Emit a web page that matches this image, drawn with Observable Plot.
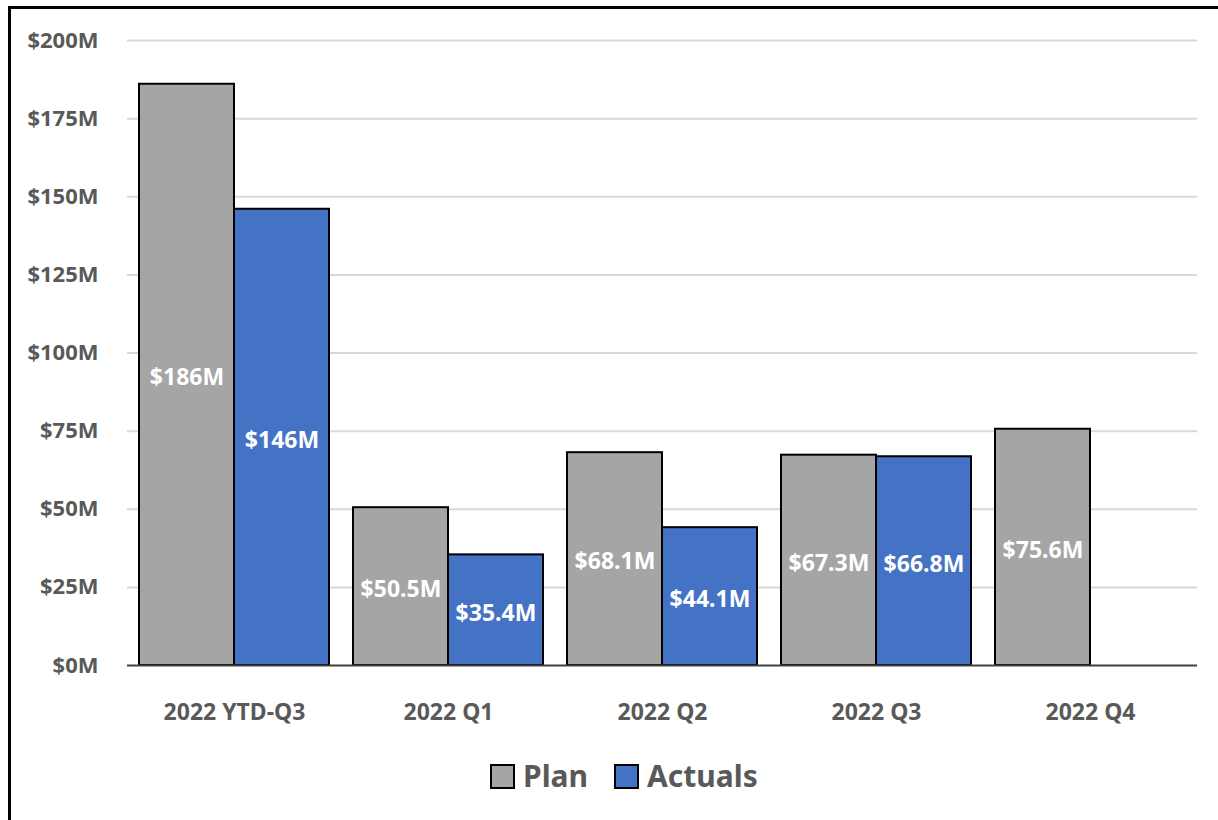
<!DOCTYPE html>
<html><head><meta charset="utf-8">
<script src="https://cdn.jsdelivr.net/npm/d3@7"></script>
<script src="https://cdn.jsdelivr.net/npm/@observablehq/plot@0.6"></script>
<style>
body{margin:0;background:#fff;width:1218px;height:820px;overflow:hidden;position:relative;font-family:"Noto Sans",sans-serif}
#frame{position:absolute;left:8px;top:6px;width:1400px;height:1000px;border-left:3px solid #000;border-top:3px solid #000;pointer-events:none}
#chart{position:absolute;left:0;top:0}
#legend{position:absolute;top:754px;left:490px;display:flex;align-items:center;font-size:30px;font-weight:700;color:#595959;white-space:nowrap;line-height:44px}
#legend .sw{width:21px;height:21px;border:2px solid #000;display:inline-block;margin-right:8px}
#legend .item{display:flex;align-items:center;margin-right:26px}
</style></head>
<body>
<div id="chart"></div>
<div id="legend"></div>
<div id="frame"></div>
<script>
const categories = ["2022 YTD-Q3", "2022 Q1", "2022 Q2", "2022 Q3", "2022 Q4"];
const series = ["Plan", "Actuals"];
const planValues = [186, 50.5, 68.1, 67.3, 75.6];
const actualValues = [146, 35.4, 44.1, 66.8, null];
const colors = ["#a5a5a5", "#4472c4"];
const yTicks = [0, 25, 50, 75, 100, 125, 150, 175, 200];

const fmt = v => v >= 100 ? `$${Math.round(v)}M` : `$${v.toFixed(1)}M`;

const data = [];
categories.forEach((c, i) => {
  if (planValues[i] != null) data.push({category: c, series: "Plan", value: planValues[i]});
  if (actualValues[i] != null) data.push({category: c, series: "Actuals", value: actualValues[i]});
});

const chart = Plot.plot({
  width: 1218,
  height: 740,
  marginLeft: 125,
  marginRight: 20,
  marginTop: 40,
  marginBottom: 75,
  style: {fontFamily: "'Noto Sans', sans-serif", fontSize: "18px", fontWeight: "700", color: "#595959", background: "transparent", overflow: "visible"},
  fx: {domain: categories, padding: 0, label: null},
  x: {domain: series, paddingInner: 0, paddingOuter: 0.118, axis: null},
  y: {domain: [0, 200], label: null},
  color: {domain: series, range: colors},
  marks: [
    Plot.ruleY(yTicks.filter(d => d > 0), {stroke: "#d9d9d9", strokeWidth: 2}),
    Plot.axisY(yTicks, {tickSize: 0, tickPadding: 29, tickFormat: d => `$${d}M`, fill: "#595959", fontSize: 22, fontWeight: 700}),
    Plot.axisFx({anchor: "bottom", tickSize: 0, tickPadding: 38, fontSize: 23, fontWeight: 700, fill: "#595959", label: null}),
    Plot.barY(data, {fx: "category", x: "series", y: "value", fill: "series", stroke: "#000", strokeWidth: 2, inset: 0}),
    Plot.ruleY([0], {stroke: "#404040", strokeWidth: 2}),
    Plot.text(data, {fx: "category", x: "series", y: d => d.value / 2, dy: 3, text: d => fmt(d.value), fill: "#fff", fontSize: 23, fontWeight: 700})
  ]
});
document.getElementById("chart").appendChild(chart);

const legend = document.getElementById("legend");
series.forEach((s, i) => {
  const item = document.createElement("div");
  item.className = "item";
  const sw = document.createElement("span");
  sw.className = "sw";
  sw.style.background = colors[i];
  const t = document.createElement("span");
  t.textContent = s;
  item.appendChild(sw); item.appendChild(t);
  legend.appendChild(item);
});
</script>
</body></html>
